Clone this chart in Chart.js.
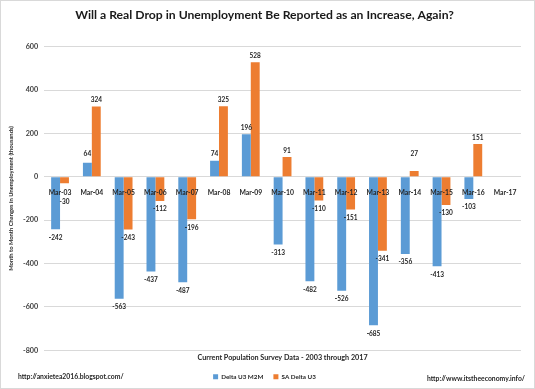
<!DOCTYPE html>
<html>
<head>
<meta charset="utf-8">
<script src="https://cdn.jsdelivr.net/npm/chart.js@4/dist/chart.umd.min.js"></script>
<style>
  html, body { margin: 0; padding: 0; background: #fff; }
  #wrap { width: 535px; height: 389px; position: relative; }
  canvas { outline: 1px solid #d9d9d9; outline-offset: -1px; }
</style>
</head>
<body>
<div id="wrap"><canvas id="unempChart"></canvas></div>
<script>
const categories = ["Mar-03", "Mar-04", "Mar-05", "Mar-06", "Mar-07", "Mar-08", "Mar-09",
  "Mar-10", "Mar-11", "Mar-12", "Mar-13", "Mar-14", "Mar-15", "Mar-16", "Mar-17"];
const deltaU3M2M = [-242, 64, -563, -437, -487, 74, 196, -313, -482, -526, -685, -356, -413, -103, null];
const saDeltaU3 = [-30, 324, -243, -112, -196, 325, 528, 91, -110, -151, -341, 27, -130, 151, null];
const yMin = -800;
const yMax = 600;
const yStep = 200;

const FONT = "Lato, 'Liberation Sans', sans-serif";

// value labels above/below each bar, kept clear of the category labels
const barLabels = {
  id: "barLabels",
  afterDatasetsDraw(chart) {
    const { ctx } = chart;
    const zeroY = chart.scales.y.getPixelForValue(0);
    ctx.save();
    ctx.font = "bold 6.5px " + FONT;
    ctx.fillStyle = "#262626";
    ctx.textAlign = "center";
    chart.data.datasets.forEach((ds, i) => {
      chart.getDatasetMeta(i).data.forEach((bar, j) => {
        const v = ds.data[j];
        if (v === null) return;
        if (v >= 0) {
          ctx.textBaseline = "bottom";
          ctx.fillText(v, bar.x, Math.min(bar.y - 3, zeroY - 20));
        } else {
          ctx.textBaseline = "top";
          ctx.fillText(v, bar.x, Math.max(bar.y + 5, zeroY + 22));
        }
      });
    });
    ctx.restore();
  },
};

// x axis title and the two source lines
const extraText = {
  id: "extraText",
  afterDraw(chart) {
    const { ctx, chartArea } = chart;
    ctx.save();
    ctx.fillStyle = "#262626";
    ctx.textBaseline = "middle";
    ctx.font = "bold 7.2px " + FONT;
    ctx.textAlign = "center";
    ctx.fillText("Current Population Survey Data - 2003 through 2017",
      (chartArea.left + chartArea.right) / 2, chartArea.bottom + 7);
    ctx.font = "bold 6.8px " + FONT;
    ctx.textAlign = "left";
    ctx.fillText("http://anxietea2016.blogspot.com/", 18, 377);
    ctx.textAlign = "right";
    ctx.fillText("http://www.itstheeconomy.info/", 525, 379);
    ctx.restore();
  },
};

const ctx = document.getElementById("unempChart").getContext("2d");

const unempChart = new Chart(ctx, {
  type: "bar",
  data: {
    labels: categories,
    datasets: [
      {
        label: "Delta U3 M2M",
        data: deltaU3M2M,
        backgroundColor: "#5B9BD5",
      },
      {
        label: "SA Delta U3",
        data: saDeltaU3,
        backgroundColor: "#ED7D31",
      },
    ],
  },
  options: {
    responsive: true,
    maintainAspectRatio: false,
    animation: false,
    categoryPercentage: 0.56,
    barPercentage: 1,
    layout: {
      padding: { left: 8, right: 14, top: 0, bottom: -1 },
    },
    scales: {
      x: {
        type: "category",
        position: { y: 0 },
        grid: { display: false },
        border: { display: false },
        ticks: {
          z: 1,
          padding: 4,
          autoSkip: false,
          maxRotation: 0,
          color: "#262626",
          font: { family: FONT, size: 6.8, weight: "bold" },
        },
      },
      y: {
        min: yMin,
        max: yMax,
        grid: { color: "#D9D9D9", drawTicks: false },
        border: { display: false },
        ticks: {
          stepSize: yStep,
          padding: 6,
          color: "#404040",
          font: { family: FONT, size: 7.2, weight: "bold" },
        },
        title: {
          display: true,
          text: "Month to Month Changes in Unemployment (thousands)",
          color: "#262626",
          font: { family: FONT, size: 5.8, weight: "bold" },
          padding: { top: 0, bottom: 2 },
        },
      },
    },
    plugins: {
      title: {
        display: true,
        text: "Will a Real Drop in Unemployment Be Reported as an Increase, Again?",
        color: "#1a1a1a",
        font: { family: FONT, size: 12.2, weight: "bold" },
        padding: { top: 8, bottom: 24 },
      },
      legend: {
        position: "bottom",
        title: {
          display: true,
          text: " ",
          font: { family: FONT, size: 6.5 },
          padding: { top: 5.7, bottom: 0 },
        },
        labels: {
          boxWidth: 5,
          boxHeight: 5,
          padding: 10,
          color: "#262626",
          font: { family: FONT, size: 6.3, weight: "bold" },
        },
      },
      tooltip: { enabled: false },
    },
  },
  plugins: [barLabels, extraText],
});
</script>
</body>
</html>
